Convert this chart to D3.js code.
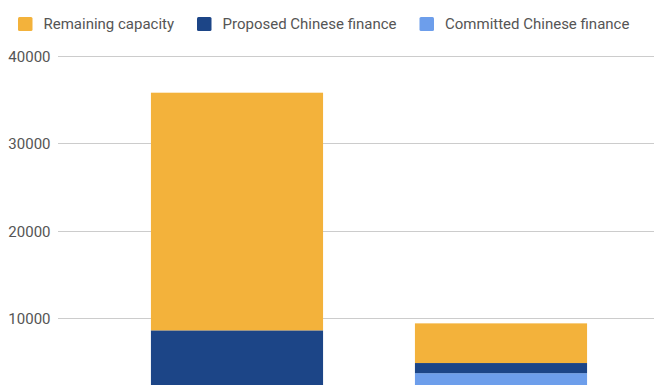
<!DOCTYPE html>
<html>
<head>
<meta charset="utf-8">
<script src="https://cdn.jsdelivr.net/npm/d3@7"></script>
<style>
  html, body { margin: 0; padding: 0; background: #fff; }
  svg { display: block; font-family: Roboto, "Noto Sans", Arial, sans-serif; }
</style>
</head>
<body>
<svg id="chart" width="654" height="385"></svg>
<script>
// Chart data
const categories = ["Total", "Chinese finance"];
const seriesNames = ["Committed Chinese finance", "Proposed Chinese finance", "Remaining capacity"];
const committed = [0, 3700];
const proposed = [8600, 1160];
const remaining = [27200, 4540];
const yTicks = [10000, 20000, 30000, 40000];
const legendOrder = ["Remaining capacity", "Proposed Chinese finance", "Committed Chinese finance"];

const colors = {
  "Remaining capacity": "#f3b23b",
  "Proposed Chinese finance": "#1c4587",
  "Committed Chinese finance": "#6d9eeb"
};

const svg = d3.select("#chart");
const W = 654;

const y = d3.scaleLinear().domain([0, 40000]).range([405.5, 56]);
const x = d3.scaleBand()
  .domain(categories)
  .range([105, 633])
  .paddingInner(0.348)
  .paddingOuter(0.174);

// Gridlines and tick labels
const grid = svg.append("g");
grid.selectAll("line")
  .data(yTicks)
  .join("line")
  .attr("x1", 58).attr("x2", W)
  .attr("y1", d => Math.round(y(d)) + 0.5)
  .attr("y2", d => Math.round(y(d)) + 0.5)
  .attr("stroke", "#cccccc")
  .attr("stroke-width", 1);

grid.selectAll("text")
  .data(yTicks)
  .join("text")
  .attr("x", 50.5)
  .attr("y", d => y(d) + 0.5)
  .attr("dy", "0.35em")
  .attr("text-anchor", "end")
  .attr("font-size", 15)
  .attr("fill", "#555")
  .text(d => d);

// Stacked bars
const rows = categories.map((c, i) => ({
  category: c,
  "Committed Chinese finance": committed[i],
  "Proposed Chinese finance": proposed[i],
  "Remaining capacity": remaining[i]
}));
const stacked = d3.stack().keys(seriesNames)(rows);

svg.append("g")
  .selectAll("g")
  .data(stacked)
  .join("g")
  .attr("fill", s => colors[s.key])
  .selectAll("rect")
  .data(s => s.filter(d => d[1] > d[0]))
  .join("rect")
  .attr("x", d => x(d.data.category))
  .attr("width", x.bandwidth())
  .attr("y", d => y(d[1]))
  .attr("height", d => y(d[0]) - y(d[1]));

// Legend
const legend = svg.append("g");
const legendX = [18, 197, 419.5];
legendOrder.forEach((name, i) => {
  const g = legend.append("g").attr("transform", `translate(${legendX[i]},0)`);
  g.append("rect")
    .attr("x", 0).attr("y", 17)
    .attr("width", 14.5).attr("height", 14)
    .attr("rx", 1.5)
    .attr("fill", colors[name]);
  g.append("text")
    .attr("x", 25.5).attr("y", 24)
    .attr("dy", "0.35em")
    .attr("font-size", 15)
    .attr("fill", "#555")
    .text(name);
});
</script>
</body>
</html>
